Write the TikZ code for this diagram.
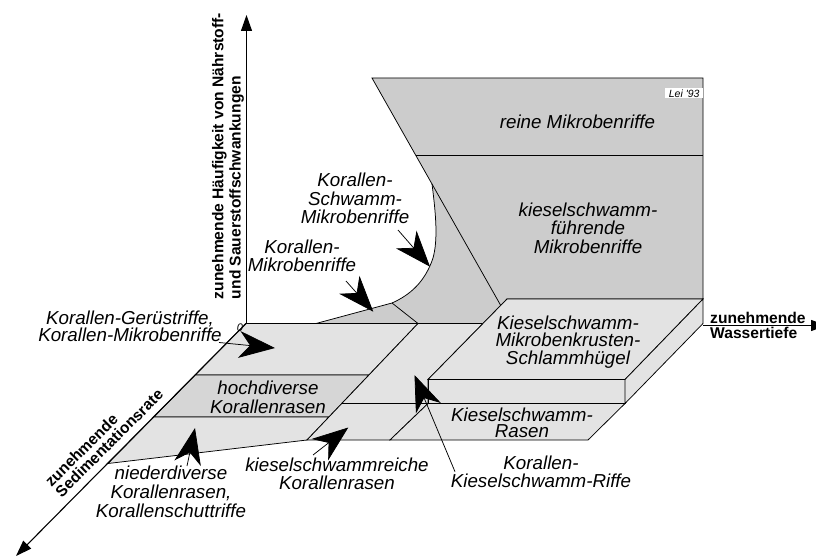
\documentclass[tikz,border=0pt]{standalone}
\usepackage{fontspec}
\setmainfont{Liberation Sans}
\newfontfamily\lblfont{Liberation Sans Italic}
\newfontfamily\axfont{Liberation Sans Bold}
\usetikzlibrary{arrows.meta}
\definecolor{wallgray}{gray}{0.80}
\definecolor{floorgray}{gray}{0.89}
\definecolor{bandgray}{gray}{0.84}
\tikzset{
  face/.style={draw=black,line width=0.75pt,line join=miter},
  divline/.style={draw=black,line width=0.75pt},
  lbl/.style={font=\lblfont\fontsize{18.75}{#1}\selectfont,align=center,inner sep=0pt},
  lbl/.default=18.3,
  axlbl/.style={font=\axfont\fontsize{15.6}{#1}\selectfont,align=left,inner sep=0pt},
  axlbl/.default=15,
  bigarrow/.style={line width=0.75pt,-{Stealth[length=36pt,width=27pt,inset=11pt]}},
  axisarrow/.style={line width=1.1pt,-{Triangle[length=16pt,width=11pt]}},
}
\begin{document}
\begin{tikzpicture}[x=1pt,y=-1pt]
\path[use as bounding box] (0,0) rectangle (816,559);
\fill[white] (0,0) rectangle (816,559);

% key points
\coordinate (O) at (246,323.5);
\coordinate (L1t) at (418,323.5);
\coordinate (L1a) at (368.9,375);
\coordinate (L1b) at (328.9,417);
\coordinate (L1c) at (341.8,403.5);
\coordinate (L1d) at (307,440);
\coordinate (Aa) at (195.2,375);
\coordinate (Ab) at (153.8,417);
\coordinate (F) at (108,463.5);
\coordinate (S0) at (483,323.5);
\coordinate (Sbl) at (507,299);
\coordinate (Sbr) at (703,299);
\coordinate (Sfl) at (428,379.5);
\coordinate (Sfr) at (625,379.5);
\coordinate (Sdl) at (428,403.5);
\coordinate (Sdr) at (625,403.5);
\coordinate (Sbb) at (703,323.5);
\coordinate (Rbl) at (390,440);
\coordinate (Rbr) at (588,440);
\coordinate (W1) at (316,323.5);
\coordinate (W2) at (392,303);
\coordinate (W3) at (432,184);
\coordinate (W4) at (372,78);
\coordinate (W5) at (703,78);
\coordinate (Wd) at (500.7,305.4);
\coordinate (Wh1) at (415.6,155);
\coordinate (Wh2) at (703,155);

% floor bands left of L1
\path[face,fill=floorgray] (O) -- (L1t) -- (L1a) -- (Aa) -- cycle;
\path[face,fill=bandgray] (Aa) -- (L1a) -- (L1b) -- (Ab) -- cycle;
\path[face,fill=floorgray] (Ab) -- (L1b) -- (L1d) -- (F) -- cycle;
% middle band
\path[face,fill=floorgray] (L1t) -- (S0) -- (Sfl) -- (Sdl) -- (Rbl) -- (L1d) -- cycle;
\draw[divline] (L1c) -- (Sdl);
% Kieselschwamm-Rasen band
\path[face,fill=floorgray] (Sdl) -- (Sdr) -- (Rbr) -- (Rbl) -- cycle;
% wall
\path[face,fill=wallgray] (W1) -- (W2) .. controls (410,295) and (425,282) .. (433,258)
  .. controls (438,240) and (436,215) .. (W3) -- (W4) -- (W5) -- (Sbr) -- (Sbl) -- (S0) -- cycle;
\draw[divline] (W2) -- (L1t);
\draw[divline] (W3) -- (Wd);
\draw[divline] (Wh1) -- (Wh2);
% slab
\path[face,fill=floorgray] (Sbl) -- (Sbr) -- (Sfr) -- (Sfl) -- cycle;
\path[face,fill=floorgray] (Sfl) -- (Sfr) -- (Sdr) -- (Sdl) -- cycle;
\path[face,fill=floorgray] (Sfr) -- (Sbr) -- (Sbb) -- (Sdr) -- cycle;

% axes
\coordinate (Ytip) at (246.5,15);
\coordinate (Yb) at (246.5,323.5);
\coordinate (Xs) at (703,325.5);
\coordinate (Xtip) at (827,325.5);
\coordinate (Ztip) at (16,556);
\draw[axisarrow] (Yb) -- (Ytip);
\draw[axisarrow] (Xs) -- (Xtip);
\draw[axisarrow] (O) -- (Ztip);

% labels
\node[lbl=16.7] (tA) at (130,326.5) {Korallen-Gerüstriffe,\\Korallen-Mikrobenriffe};
\node[lbl=18.2] (tKSM) at (355,198.3) {Korallen-\\Schwamm-\\Mikrobenriffe};
\node[lbl=18.4] (tKM) at (302,255.7) {Korallen-\\Mikrobenriffe};
\node[lbl] (tReine) at (577.5,121.5) {reine Mikrobenriffe};
\node[lbl=18.3] (tKF) at (588,228.2) {kieselschwamm-\\führende\\Mikrobenriffe};
\node[lbl=17.7] (tSlab) at (568,341.9) {Kieselschwamm-\\Mikrobenkrusten-\\Schlammhügel};
\node[lbl=18.3] (tHoch) at (268,397.3) {hochdiverse\\Korallenrasen};
\node[lbl=18.6] (tNieder) at (171,491.8) {niederdiverse\\Korallenrasen,\\Korallenschuttriffe};
\node[lbl=17.6] (tKR) at (337,473.7) {kieselschwammreiche\\Korallenrasen};
\node[lbl=16.3] (tRasen) at (522,423) {Kieselschwamm-\\Rasen};
\node[lbl=17.5] (tKKR) at (541,471.9) {Korallen-\\Kieselschwamm-Riffe};
\node[fill=white,font=\lblfont\fontsize{10.5}{11}\selectfont,inner sep=0pt,minimum width=38pt,minimum height=10pt] (tLei) at (684.2,93.3) {Lei '93};
\node[font=\lblfont\fontsize{11}{11}\selectfont,inner sep=0pt] (tZero) at (240,327.5) {0};

% axis labels
\node[axlbl=17.4,rotate=90] (tY) at (228,156) {zunehmende Häufigkeit von Nährstoff-\\und Sauerstoffschwankungen};
\node[axlbl=15,anchor=west] (tX) at (710,325.1) {zunehmende\\Wassertiefe};
\node[axlbl=14.5,rotate=45] (tZ) at (103.9,437.9) {zunehmende\\Sedimentationsrate};

% big arrows
\coordinate (a1s) at (219,342.5); \coordinate (a1t) at (275,348);
\coordinate (a2s) at (346,281);   \coordinate (a2t) at (373.3,311.7);
\coordinate (a3s) at (398,230);   \coordinate (a3t) at (430,266.7);
\coordinate (a4s) at (187,466);   \coordinate (a4t) at (195,428);
\coordinate (a5s) at (313,455);   \coordinate (a5t) at (348.3,427.5);
\coordinate (a6s) at (455,471.7); \coordinate (a6t) at (414.5,375);
\draw[bigarrow] (a1s) -- (a1t);
\draw[bigarrow] (a2s) -- (a2t);
\draw[bigarrow] (a3s) -- (a3t);
\draw[bigarrow] (a4s) -- (a4t);
\draw[bigarrow] (a5s) -- (a5t);
\draw[bigarrow] (a6s) -- (a6t);
\end{tikzpicture}
\end{document}
